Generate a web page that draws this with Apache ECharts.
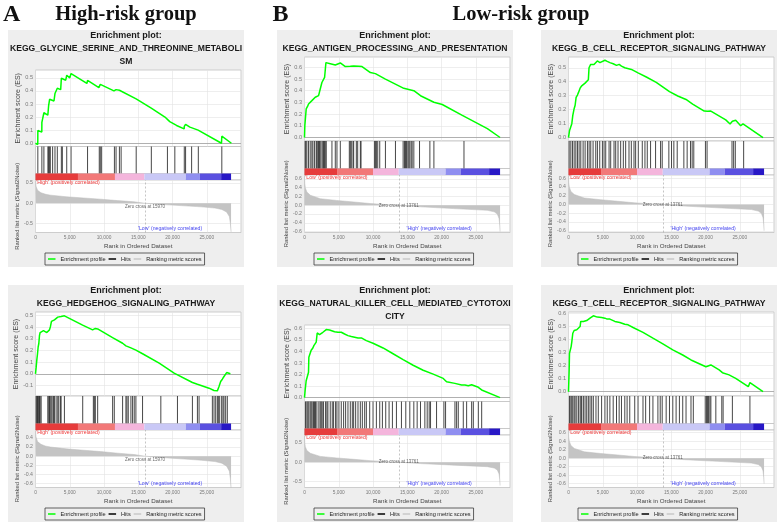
<!DOCTYPE html>
<html><head><meta charset="utf-8">
<script src="https://cdn.jsdelivr.net/npm/echarts@6/dist/echarts.min.js"></script>
<style>html,body{margin:0;padding:0;background:#fff}#c{width:777px;height:522px}</style>
</head><body><div id="c"></div>
<script>
// ---------------- DATA ----------------
const glycineTitle  = ['Enrichment plot:', 'KEGG_GLYCINE_SERINE_AND_THREONINE_METABOLI', 'SM'];
const hedgehogTitle = ['Enrichment plot:', 'KEGG_HEDGEHOG_SIGNALING_PATHWAY'];
const antigenTitle  = ['Enrichment plot:', 'KEGG_ANTIGEN_PROCESSING_AND_PRESENTATION'];
const bcellTitle    = ['Enrichment plot:', 'KEGG_B_CELL_RECEPTOR_SIGNALING_PATHWAY'];
const nkTitle       = ['Enrichment plot:', 'KEGG_NATURAL_KILLER_CELL_MEDIATED_CYTOTOXI', 'CITY'];
const tcellTitle    = ['Enrichment plot:', 'KEGG_T_CELL_RECEPTOR_SIGNALING_PATHWAY'];

const glycineES = [[0,0],[330,-0.01],[343,0.097],[920,0.085],[931,0.16],[1215,0.15],[1225,0.233],[1800,0.215],[1912,0.285],[2059,0.336],[2696,0.323],[2843,0.38],[3088,0.372],[3186,0.42],[3676,0.41],[3775,0.497],[4412,0.482],[4559,0.52],[5000,0.50],[5196,0.533],[7500,0.457],[7600,0.48],[9250,0.425],[9310,0.44],[9460,0.45],[9660,0.46],[11450,0.40],[11520,0.405],[11760,0.41],[12250,0.405],[12500,0.41],[14690,0.339],[14700,0.343],[16900,0.268],[16910,0.271],[18900,0.200],[19600,0.165],[20590,0.136],[21700,0.11],[21720,0.128],[21910,0.145],[22540,0.123],[22790,0.117],[22800,0.13],[23740,0.10],[23770,0.11],[27150,0.0],[27200,0.054],[28600,0.0]];
const glycineHits = [340,930,1225,1810,1910,2060,2160,2500,2843,3186,3775,3922,4559,5190,7600,9310,9460,9660,11520,11760,12250,12500,14700,16910,19260,20340,21720,21910,22790,23770,27200];

const hedgehogES = [[0,0],[97,0.057],[194,0.12],[291,0.17],[388,0.23],[485,0.26],[582,0.33],[679,0.354],[874,0.363],[1165,0.37],[1650,0.354],[1890,0.343],[2038,0.377],[2184,0.406],[2330,0.449],[2524,0.44],[2766,0.463],[3009,0.454],[3252,0.486],[3494,0.471],[3737,0.491],[3980,0.483],[4222,0.497],[6880,0.418],[6892,0.425],[8340,0.377],[8445,0.383],[8590,0.391],[8736,0.389],[9076,0.385],[11250,0.31],[11260,0.313],[11502,0.30],[12716,0.262],[13201,0.24],[13929,0.222],[14657,0.203],[15628,0.172],[18054,0.091],[18297,0.086],[20238,0.006],[22908,-0.074],[23636,-0.089],[23878,-0.086],[25334,-0.123],[26062,-0.143],[26305,-0.137],[26548,-0.146],[26790,-0.109],[27033,-0.066],[27276,-0.046],[27518,-0.023],[27761,-0.009],[27907,0.011],[28450,0.0]];
const hedgehogHits = [97,194,291,388,485,582,679,825,1796,1941,2038,2135,2281,2427,2621,2766,3009,3252,3397,3640,3737,4222,6892,8445,8590,8736,9076,11260,11502,12716,13201,13347,13541,13929,14172,14415,14657,15628,18297,20724,22908,23636,23878,25820,26062,26305,26548,26693,26887,27178,27372,27518,27761,28004];

const antigenES = [[0,0],[51,0.104],[151,0.175],[249,0.245],[444,0.265],[590,0.287],[834,0.30],[1078,0.315],[1322,0.33],[1566,0.344],[1810,0.338],[2054,0.358],[2298,0.414],[2542,0.47],[2786,0.485],[2932,0.513],[3030,0.527],[3128,0.64],[3274,0.645],[3762,0.631],[4006,0.637],[4494,0.62],[4738,0.631],[5226,0.637],[5958,0.606],[6202,0.597],[6690,0.608],[7178,0.611],[7910,0.608],[8398,0.606],[9618,0.555],[10350,0.546],[11814,0.499],[14498,0.42],[15962,0.40],[16938,0.357],[18890,0.301],[20110,0.282],[23038,0.189],[23282,0.186],[26698,0.076],[28550,0.0]];
const antigenHits = [103,200,346,590,834,1078,1225,1469,1713,1810,1957,2054,2200,2298,2542,2688,2786,2932,3030,3176,4006,4494,4738,5226,6543,6690,6836,7080,7178,7568,7763,8154,8252,10204,10350,10496,10691,10984,11814,13278,14400,14595,14742,14888,15083,15230,15376,15571,15718,15962,16791,18304,18890,23282];

const bcellES = [[0,0],[145,0.049],[338,0.061],[483,0.1],[628,0.159],[822,0.207],[967,0.232],[1112,0.288],[1305,0.305],[1450,0.322],[1692,0.354],[1933,0.371],[2175,0.385],[2417,0.39],[2658,0.402],[2900,0.415],[2997,0.50],[3238,0.524],[3528,0.537],[3722,0.524],[4012,0.537],[4205,0.549],[4592,0.537],[4833,0.549],[5317,0.554],[5655,0.546],[6042,0.537],[6525,0.529],[7008,0.517],[7395,0.524],[7733,0.512],[8217,0.50],[8458,0.507],[9183,0.488],[10150,0.463],[11358,0.434],[12808,0.395],[14742,0.329],[15950,0.298],[17158,0.273],[18125,0.24],[18367,0.244],[19817,0.19],[20300,0.188],[20783,0.19],[21025,0.185],[22958,0.127],[23587,0.098],[23925,0.117],[24408,0.124],[25133,0.085],[25472,0.098],[28400,0]];
const bcellHits = [100,340,580,825,1070,1310,1550,1795,2135,2425,2765,3010,3250,3590,3980,4220,4560,4950,5190,5435,5920,6160,6645,6890,7230,7615,8005,8345,8830,9170,9560,9800,10190,10770,11160,11500,11980,12710,13440,13680,14650,15040,15380,15870,16840,17320,17810,18050,18290,19990,20230,23870,24110,24350,25570];

const nkES = [[0,0],[98,0.066],[244,0.146],[488,0.146],[586,0.22],[635,0.35],[732,0.366],[976,0.41],[1220,0.43],[1366,0.45],[1562,0.466],[1708,0.48],[1854,0.56],[2050,0.55],[2196,0.546],[2440,0.557],[2684,0.566],[2928,0.58],[3172,0.589],[3416,0.60],[3660,0.586],[3904,0.58],[4392,0.571],[4880,0.566],[5124,0.557],[5368,0.566],[5856,0.551],[6344,0.537],[6832,0.529],[7320,0.523],[7808,0.517],[8296,0.517],[9028,0.494],[10004,0.471],[11468,0.43],[12932,0.38],[14396,0.329],[15860,0.28],[17324,0.237],[18788,0.203],[20252,0.166],[20740,0.137],[21960,0.123],[22936,0.109],[23180,0.094],[23424,0.109],[23912,0.103],[24400,0.111],[25376,0.089],[25864,0.066],[28550,0]];
const nkHits = [146,342,488,634,830,976,1122,1318,1464,1610,1806,2098,2294,2440,2586,2782,3075,3270,3416,3758,4050,4246,4539,4734,5027,5368,5710,6003,6345,6686,6979,7174,7467,7809,8150,8443,8785,9029,9517,10005,10493,10981,11371,11859,12347,12835,13421,14153,14787,15373,15959,16447,16935,17570,17911,18204,18399,19278,20351,20595,21962,22206,22450,23182,23670,24402,24646,25378,25866];

const tcellES = [[0,0],[97,0.166],[145,0.293],[338,0.30],[387,0.344],[483,0.38],[628,0.446],[822,0.467],[967,0.459],[1208,0.472],[1450,0.485],[1692,0.497],[1788,0.536],[1933,0.543],[2175,0.536],[2417,0.548],[2658,0.543],[2900,0.554],[3142,0.561],[3383,0.574],[3625,0.579],[3867,0.569],[4205,0.569],[4495,0.561],[4833,0.566],[5075,0.554],[5317,0.561],[5655,0.554],[6042,0.554],[6283,0.548],[6767,0.536],[7008,0.54],[7492,0.528],[7733,0.518],[8217,0.515],[8700,0.51],[9425,0.49],[10875,0.452],[12325,0.408],[13775,0.365],[15225,0.319],[16675,0.28],[17883,0.242],[18125,0.247],[20058,0.19],[20300,0.186],[20783,0.204],[21025,0.198],[21992,0.166],[22475,0.145],[22717,0.153],[23442,0.128],[23925,0.115],[24408,0.102],[26245,0.038],[26487,0.069],[28400,0]];
const tcellHits = [145,338,483,628,822,967,1208,1450,1692,1837,1933,2175,2417,2658,2900,3142,3383,3625,4012,4350,4833,5317,5655,6042,6525,7008,7395,7733,8217,8555,8942,9667,10150,10875,11262,11842,12325,13050,13388,13678,14258,14742,15225,15708,16192,16675,17158,17883,18222,19962,20155,20300,20445,20638,20783,21508,22378,22572,23925,26487];

// ranked list metric (Signal2Noise), High-risk vs Low-risk ordering
const metricHighRisk = [[0,0.56],[80,0.42],[300,0.32],[800,0.26],[1500,0.22],[2200,0.2],[4500,0.16],[7000,0.13],[9500,0.1],[12000,0.065],[14400,0.035],[15970,0],[19300,-0.04],[21800,-0.065],[24200,-0.09],[26200,-0.12],[27200,-0.155],[27900,-0.22],[28300,-0.33],[28450,-0.5],[28550,-0.71]];
const metricLowRisk  = [[0,0.69],[40,0.5],[120,0.40],[350,0.3],[850,0.23],[2300,0.15],[4700,0.11],[7200,0.075],[9600,0.04],[12000,0.015],[13761,0],[16900,-0.035],[21800,-0.075],[26700,-0.115],[27700,-0.15],[28150,-0.2],[28400,-0.3],[28500,-0.45],[28550,-0.6]];

const colorSegmentsHigh = [[0,6200],[6200,11600],[11600,15900],[15900,21950],[21950,24000],[24000,27100],[27100,28550]];
const colorSegmentsLow  = [[0,4750],[4750,10000],[10000,13760],[13760,20600],[20600,22800],[22800,26950],[26950,28550]];
const zeroCrossHigh = 15970;
const zeroCrossLow  = 13761;

const esTicks05   = [0,0.1,0.2,0.3,0.4,0.5];
const esTicksHh   = [-0.1,0,0.1,0.2,0.3,0.4,0.5];
const esTicks06   = [0,0.1,0.2,0.3,0.4,0.5,0.6];
const metTicksHalf = [-0.5,0,0.5];
const metTicksA2   = [-0.6,-0.4,-0.2,0,0.2,0.4];
const metTicksB2   = [-0.6,-0.4,-0.2,0,0.2,0.4,0.6];
const legendNames  = ['Enrichment profile','Hits','Ranking metric scores'];

// ---------------- STYLE / LAYOUT ----------------
const colorBarColors = ['#e63b3b','#f27878','#f4b5dc','#c9c8f6','#8f8ef0','#5a50e0','#2818c6'];
const FONT = '"Liberation Sans", Arial, sans-serif';
const SERIF = '"Liberation Serif", "Times New Roman", serif';

const panels = [
  {x:8,   y:30,  two:true,  title:glycineTitle,  es:glycineES,  hits:glycineHits,  esR:[-0.025,0.56], esT:esTicks05, metR:[-0.725,0.575], metT:metTicksHalf, grp:'high'},
  {x:8,   y:285, two:false, title:hedgehogTitle, es:hedgehogES, hits:hedgehogHits, esR:[-0.19,0.53],  esT:esTicksHh, metR:[-0.69,0.575],  metT:metTicksA2,   grp:'high'},
  {x:277, y:30,  two:false, title:antigenTitle,  es:antigenES,  hits:antigenHits,  esR:[-0.03,0.688], esT:esTicks06, metR:[-0.62,0.69],   metT:metTicksB2,   grp:'low'},
  {x:541, y:30,  two:false, title:bcellTitle,    es:bcellES,    hits:bcellHits,    esR:[-0.024,0.577],esT:esTicks05, metR:[-0.64,0.676],  metT:metTicksB2,   grp:'low'},
  {x:277, y:285, two:true,  title:nkTitle,       es:nkES,       hits:nkHits,       esR:[-0.034,0.629],esT:esTicks06, metR:[-0.65,0.70],   metT:metTicksHalf, grp:'low'},
  {x:541, y:285, two:false, title:tcellTitle,    es:tcellES,    hits:tcellHits,    esR:[-0.033,0.608],esT:esTicks06, metR:[-0.69,0.663],  metT:metTicksB2,   grp:'low'}
];

const commas = v => String(v).replace(/\B(?=(\d{3})+(?!\d))/g, ',');
const option = {
  animation:false, backgroundColor:'#ffffff', textStyle:{fontFamily:FONT},
  grid:[], xAxis:[], yAxis:[], series:[], legend:[], graphic:{elements:[]}
};
const G = option.graphic.elements;
const splitStyle = {show:true, lineStyle:{color:'#e3e3e3', width:0.6}};

panels.forEach((p,i) => {
  const PW = 236, PH = 237;
  const L = p.x + 27.5, W = 205.5;
  const esTop = p.y + (p.two ? 40 : 27), esBot = p.y + (p.two ? 116.5 : 111);
  const hitBot = p.y + (p.two ? 143.5 : 138.5);
  const cbBot = hitBot + 6.5;
  const metBot = p.y + 202.5;
  const high = p.grp === 'high';
  const metric = high ? metricHighRisk : metricLowRisk;
  const segs = high ? colorSegmentsHigh : colorSegmentsLow;
  const zc = high ? zeroCrossHigh : zeroCrossLow;
  const b = 4*i;

  [[esTop,esBot],[esBot,hitBot],[hitBot,cbBot],[cbBot,metBot]].forEach(r => {
    option.grid.push({left:L, top:r[0], width:W, height:r[1]-r[0], show:true,
      backgroundColor:'#ffffff', borderColor:'#c2c2c2', borderWidth:0.8,
      containLabel:false, outerBoundsMode:'none'});
  });

  const baseX = k => ({type:'value', gridIndex:b+k, min:0, max:30000, interval:5000,
    axisLine:{show:false}, axisTick:{show:false}, axisLabel:{show:false}, splitLine:{show:false}});
  const ex = baseX(0); ex.splitLine = splitStyle;
  const mx = baseX(3); mx.splitLine = splitStyle;
  mx.axisLabel = {show:true, fontSize:4.8, color:'#7a7a7a', margin:2.5, showMaxLabel:false, formatter:commas};
  mx.name = 'Rank in Ordered Dataset'; mx.nameLocation = 'middle'; mx.nameGap = 10.5;
  mx.nameTextStyle = {fontSize:6.2, color:'#444'};
  option.xAxis.push(ex, baseX(1), baseX(2), mx);

  option.yAxis.push(
    {type:'value', gridIndex:b, min:p.esR[0], max:p.esR[1],
     axisLine:{show:false}, axisTick:{show:false, customValues:p.esT},
     axisLabel:{customValues:p.esT, fontSize:5.6, color:'#7a7a7a', margin:2.5, formatter:v=>v.toFixed(1)},
     splitLine:splitStyle, name:'Enrichment score (ES)', nameLocation:'middle', nameGap:14,
     nameTextStyle:{fontSize:7, color:'#444'}},
    {type:'value', gridIndex:b+1, min:0, max:1, show:false},
    {type:'value', gridIndex:b+2, min:0, max:1, show:false},
    {type:'value', gridIndex:b+3, min:p.metR[0], max:p.metR[1],
     axisLine:{show:false}, axisTick:{show:false, customValues:p.metT},
     axisLabel:{customValues:p.metT, fontSize:5.2, color:'#7a7a7a', margin:2.5, formatter:v=>v.toFixed(1)},
     splitLine:splitStyle, name:'Ranked list metric (Signal2Noise)', nameLocation:'middle', nameGap:14,
     nameTextStyle:{fontSize:5.9, color:'#444'}}
  );

  option.series.push(
    {type:'line', name:'Enrichment profile', xAxisIndex:b, yAxisIndex:b, data:p.es, symbol:'none',
     color:'#00ff00', lineStyle:{color:'#00ff00', width:1.5}, z:5,
     markLine:{silent:true, symbol:'none', data:[{yAxis:0}], label:{show:false},
       lineStyle:{color:'#a0a0a0', width:0.8, type:'solid'}}},
    {type:'custom', name:'Hits', xAxisIndex:b+1, yAxisIndex:b+1,
     data:p.hits.map(h => [h, 0]), encode:{x:0, y:1}, itemStyle:{color:'#000000'},
     renderItem:(params, api) => {
       const a = api.coord([api.value(0), 0]), c = api.coord([api.value(0), 1]);
       return {type:'line', shape:{x1:a[0], y1:a[1], x2:c[0], y2:c[1]}, style:{stroke:'#262626', lineWidth:0.85}};
     }},
    {type:'custom', name:'colorbar', xAxisIndex:b+2, yAxisIndex:b+2,
     data:segs.map((s,j) => [s[0], s[1], j]), encode:{x:[0,1]},
     renderItem:(params, api) => {
       const a = api.coord([api.value(0), 1]), c = api.coord([api.value(1), 0]);
       return {type:'rect', shape:{x:a[0], y:a[1], width:c[0]-a[0], height:c[1]-a[1]},
               style:{fill:colorBarColors[api.value(2)]}};
     }},
    {type:'line', name:'Ranking metric scores', xAxisIndex:b+3, yAxisIndex:b+3, data:metric, symbol:'none',
     color:'#c8c8c8', lineStyle:{width:0.5, color:'#bdbdbd'}, areaStyle:{color:'#c4c4c4', opacity:1},
     markLine:{silent:true, symbol:'none', data:[{xAxis:zc}], label:{show:false},
       lineStyle:{color:'#acacac', width:0.7, type:[2,2]}}},
    {type:'scatter', name:'zc', xAxisIndex:b+3, yAxisIndex:b+3, data:[[zc,0]], symbolSize:1,
     itemStyle:{color:'rgba(0,0,0,0)'}, silent:true, z:6,
     label:{show:true, formatter:'Zero cross at ' + zc, position: high ? 'bottom' : 'inside',
       distance:0.5, fontSize:4.5, color:'#404040'}}
  );

  option.legend.push({left:p.x+37, top:p.y+223, orient:'horizontal', data:legendNames,
    icon:'rect', itemWidth:7.5, itemHeight:1.5, itemGap:3, padding:[3,3],
    borderColor:'#3a3a3a', borderWidth:0.8, selectedMode:false,
    textStyle:{fontSize:5.6, color:'#222', fontFamily:FONT}});

  // panel background
  G.push({type:'rect', shape:{x:p.x, y:p.y, width:PW, height:PH}, style:{fill:'#eeeeee'}, z:-100});
  // titles
  const ys = [5.8, 18.7, 31.6];
  p.title.forEach((t,k) => {
    G.push({type:'text', x:p.x + PW/2, y:p.y + ys[k], z:100,
      style:{text:t, align:'center', verticalAlign:'middle', fontSize:k===0?9:8.6, fontWeight:'bold', fontFamily:FONT, fill:'#1a1a1a'}});
  });
  // correlation annotations
  G.push({type:'text', x:L + 0.8, y:cbBot + 3, z:100,
    style:{text: high ? "'High' (positively correlated)" : "'Low' (positively correlated)",
      align:'left', verticalAlign:'middle', fontSize:5.2, fontFamily:FONT, fill:'#ee3b3b'}});
  G.push({type:'text', x:L + 0.655*W, y:metBot - 3.6, z:100,
    style:{text: high ? "'Low' (negatively correlated)" : "'High' (negatively correlated)",
      align:'center', verticalAlign:'middle', fontSize:5.2, fontFamily:FONT, fill:'#4646f0'}});
});

// group headings
G.push({type:'text', x:3, y:15, z:100, style:{text:'A', align:'left', verticalAlign:'middle', fontSize:24, fontWeight:'bold', fontFamily:SERIF, fill:'#111'}});
G.push({type:'text', x:126, y:15, z:100, style:{text:'High-risk group', align:'center', verticalAlign:'middle', fontSize:20.5, fontWeight:'bold', fontFamily:SERIF, fill:'#111'}});
G.push({type:'text', x:272.5, y:15, z:100, style:{text:'B', align:'left', verticalAlign:'middle', fontSize:24, fontWeight:'bold', fontFamily:SERIF, fill:'#111'}});
G.push({type:'text', x:521, y:15, z:100, style:{text:'Low-risk group', align:'center', verticalAlign:'middle', fontSize:20.5, fontWeight:'bold', fontFamily:SERIF, fill:'#111'}});

const chart = echarts.init(document.getElementById('c'), null, {renderer:'canvas', width:777, height:522});
chart.setOption(option);
</script>
</body></html>
